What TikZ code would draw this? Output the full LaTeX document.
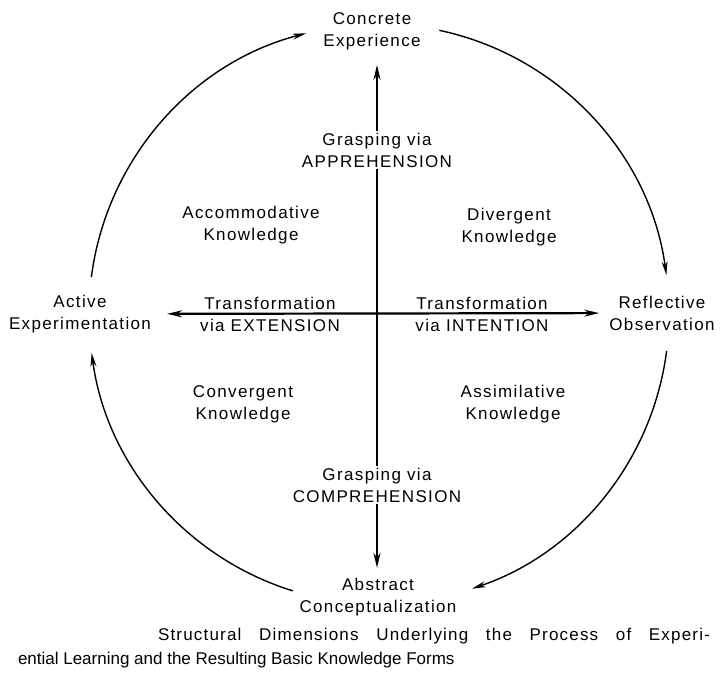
\documentclass[tikz,border=0pt]{standalone}
\usepackage{fontspec}
\setmainfont{Liberation Sans}
\newfontfamily\lblfont[LetterSpace=8]{Liberation Sans}
\newfontfamily\capfont[LetterSpace=7]{Liberation Sans}
\usetikzlibrary{arrows.meta}

\begin{document}
\begin{tikzpicture}[x=1pt,y=1pt,
  lbl/.style={align=center,font=\lblfont\fontsize{17}{22}\selectfont,inner sep=2pt},
  cyc/.style={line width=1.4pt,-{Stealth[length=14pt,width=6pt]}},
  axis/.style={line width=2.2pt,-{Stealth[length=15pt,width=7pt]}}]
\useasboundingbox (0,0) rectangle (725,681);

% stages of the cycle
\node[lbl] (ce) at (372,650) {Concrete\\Experience};
\node[lbl] (ro) at (662,368) {Reflective\\Observation};
\node[lbl] (ac) at (378,84) {Abstract\\Conceptualization};
\node[lbl] (ae) at (80,367) {Active\\Experimentation};
\coordinate (mid) at (379,367);

% circle arcs
\draw[cyc] ([shift={(172.7:290)}]mid) arc[start angle=172.7,end angle=104.5,radius=290];
\draw[cyc] ([shift={(78:290)}]mid) arc[start angle=78,end angle=7.7,radius=290];
\draw[cyc] ([shift={(-7.3:290)}]mid) arc[start angle=-7.3,end angle=-71.3,radius=290];
\draw[cyc] ([shift={(252.7:290)}]mid) arc[start angle=252.7,end angle=187.7,radius=290];

% the two axes
\node[lbl] (appr) at (377,531) {Grasping via\\APPREHENSION};
\node[lbl] (compr) at (377,196) {Grasping via\\COMPREHENSION};
\node[lbl] (ext) at (270,367) {Transformation\\via EXTENSION};
\node[lbl] (int) at (482,367) {Transformation\\via INTENTION};

\draw[line width=2.2pt] (appr) -- (compr);
\draw[axis,shorten >=13pt] (appr) -- (appr |- ce.south);
\draw[axis,shorten >=8pt] (compr) -- (compr |- ac.north);
\draw[axis,{Stealth[length=15pt,width=7pt]}-{Stealth[length=15pt,width=7pt]},
  shorten <=14pt,shorten >=8pt] (ae) -- (ro);

% knowledge forms
\node[lbl] (acco) at (251,456) {Accommodative\\Knowledge};
\node[lbl] (dive) at (509,454) {Divergent\\Knowledge};
\node[lbl] (conv) at (243,277) {Convergent\\Knowledge};
\node[lbl] (assi) at (513,277) {Assimilative\\Knowledge};

% caption
\node[font=\fontsize{17}{24}\selectfont,text width=692pt,align=justify,inner sep=0pt]
  (cap) at (364,33) {\hspace*{140pt}{\capfont Structural Dimensions Underlying the Process of Experi-}\linebreak
  ential Learning and the Resulting Basic Knowledge Forms};
\end{tikzpicture}
\end{document}
